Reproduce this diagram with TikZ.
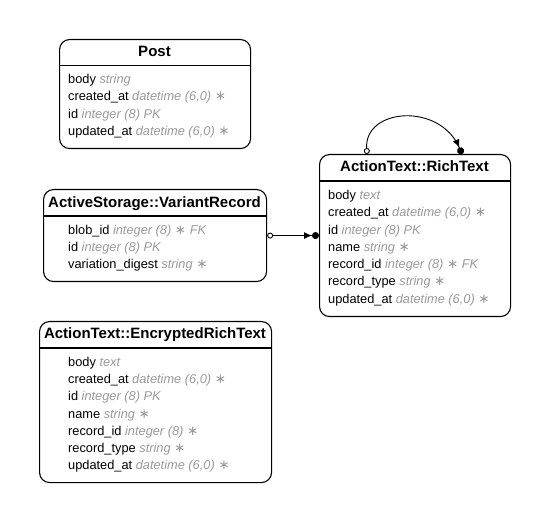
\documentclass[tikz,border=0pt]{standalone}
\usepackage{fontspec}
\setmainfont{Liberation Sans}
\newfontfamily\symfont{DejaVu Sans}
\usetikzlibrary{arrows.meta}
\definecolor{typegray}{HTML}{999999}
\newcommand{\ty}[1]{\textcolor{typegray}{\itshape #1}}
\newcommand{\req}{\textcolor{typegray}{\symfont\fontsize{13.5}{15}\selectfont ∗}}
\begin{document}
\begin{tikzpicture}[x=1pt,y=-1pt,
  tablebox/.style={draw, rounded corners=10pt, line width=1.1pt, inner sep=0pt, anchor=north west},
  headline/.style={line width=1.1pt},
  tabletitle/.style={font=\fontsize{15}{18}\selectfont\bfseries, inner sep=0pt, anchor=base},
  row/.style={font=\fontsize{12.8}{15}\selectfont, anchor=base west, inner sep=0pt},
  rel/.style={line width=0.9pt}]
\useasboundingbox (0,0) rectangle (549,521);

% Post
\node[tablebox, minimum width=191pt, minimum height=109pt] (post) at (59,39) {};
\draw[headline] ([yshift=-26.5pt]post.north west) -- ([yshift=-26.5pt]post.north east);
\node[tabletitle] (postT) at (154.5,56.5) {Post};
\node[row] (post1) at (68,83.5) {body \ty{string}};
\node[row] (post2) at (68,100.8) {created\_at \ty{datetime (6,0)} \req};
\node[row] (post3) at (68,118.1) {id \ty{integer (8) PK}};
\node[row] (post4) at (68,135.4) {updated\_at \ty{datetime (6,0)} \req};

% VariantRecord
\node[tablebox, minimum width=223pt, minimum height=92pt] (variant) at (43,189) {};
\draw[headline] ([yshift=-27pt]variant.north west) -- ([yshift=-27pt]variant.north east);
\node[tabletitle] (variantT) at (154.5,207.5) {ActiveStorage::VariantRecord};
\node[row] (variant1) at (68,234.5) {blob\_id \ty{integer (8)} \req\ \ty{FK}};
\node[row] (variant2) at (68,251.5) {id \ty{integer (8) PK}};
\node[row] (variant3) at (68,268.3) {variation\_digest \ty{string} \req};

% RichText
\node[tablebox, minimum width=191pt, minimum height=162pt] (rich) at (319,154) {};
\draw[headline] ([yshift=-27pt]rich.north west) -- ([yshift=-27pt]rich.north east);
\node[tabletitle] (richT) at (414.5,171.5) {ActionText::RichText};
\node[row] (rich1) at (328,199.5) {body \ty{text}};
\node[row] (rich2) at (328,216.8) {created\_at \ty{datetime (6,0)} \req};
\node[row] (rich3) at (328,234.1) {id \ty{integer (8) PK}};
\node[row] (rich4) at (328,251.4) {name \ty{string} \req};
\node[row] (rich5) at (328,268.7) {record\_id \ty{integer (8)} \req\ \ty{FK}};
\node[row] (rich6) at (328,286.0) {record\_type \ty{string} \req};
\node[row] (rich7) at (328,303.3) {updated\_at \ty{datetime (6,0)} \req};

% EncryptedRichText
\node[tablebox, minimum width=232pt, minimum height=161pt] (enc) at (39,321) {};
\draw[headline] ([yshift=-27pt]enc.north west) -- ([yshift=-27pt]enc.north east);
\node[tabletitle] (encT) at (155,338.5) {ActionText::EncryptedRichText};
\node[row] (enc1) at (68,366.5) {body \ty{text}};
\node[row] (enc2) at (68,383.7) {created\_at \ty{datetime (6,0)} \req};
\node[row] (enc3) at (68,400.9) {id \ty{integer (8) PK}};
\node[row] (enc4) at (68,418.1) {name \ty{string} \req};
\node[row] (enc5) at (68,435.3) {record\_id \ty{integer (8)} \req};
\node[row] (enc6) at (68,452.5) {record\_type \ty{string} \req};
\node[row] (enc7) at (68,469.7) {updated\_at \ty{datetime (6,0)} \req};

% relations
\draw[rel, {Circle[open,length=6pt,width=6pt]}-{Latex[length=8pt,width=7pt] Circle[length=7pt,width=7pt]}]
  (variant.east) -- (rich.west);
\coordinate (selfA) at (367,154);
\coordinate (selfB) at (462,154);
\draw[rel, {Circle[open,length=6pt,width=6pt]}-{Latex[length=8pt,width=7pt] Circle[length=7pt,width=7pt]}]
  (selfA) .. controls (364,108) and (440,102) .. (selfB);
\end{tikzpicture}
\end{document}
